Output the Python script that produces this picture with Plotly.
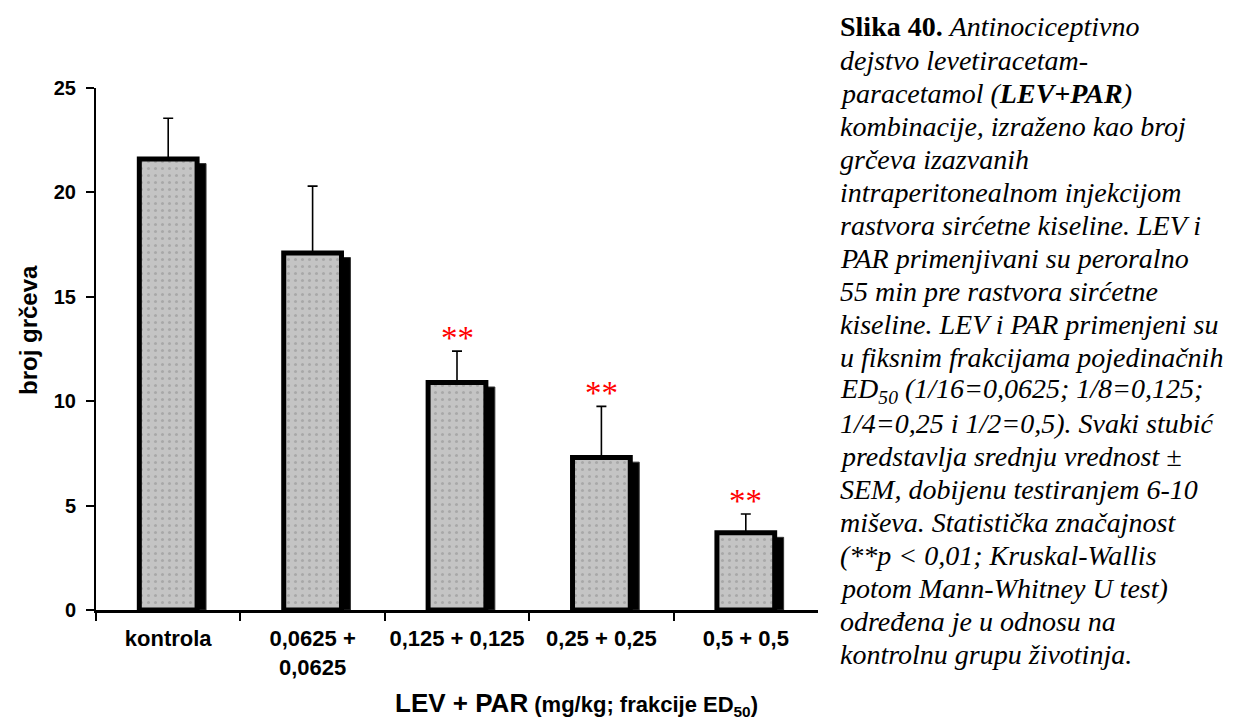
import plotly.graph_objects as go

# ---- data ----
categories = ["kontrola", "0,0625 +<br>0,0625", "0,125 + 0,125", "0,25 + 0,25", "0,5 + 0,5"]
means = [21.6, 17.1, 10.9, 7.3, 3.7]
sem = [1.95, 3.2, 1.5, 2.45, 0.9]
significant = [False, False, True, True, True]
y_ticks = [0, 5, 10, 15, 20, 25]

caption_lines = [
    "<b>Slika 40.</b> <i>Antinociceptivno</i>",
    "<i>dejstvo levetiracetam-</i>",
    "<i>paracetamol (<b>LEV+PAR</b>)</i>",
    "<i>kombinacije, izraženo kao broj</i>",
    "<i>grčeva izazvanih</i>",
    "<i>intraperitonealnom injekcijom</i>",
    "<i>rastvora sirćetne kiseline. LEV i</i>",
    "<i>PAR primenjivani su peroralno</i>",
    "<i>55 min pre rastvora sirćetne</i>",
    "<i>kiseline. LEV i PAR primenjeni su</i>",
    "<i>u fiksnim frakcijama pojedinačnih</i>",
    "<i>ED<sub>50</sub> (1/16=0,0625; 1/8=0,125;</i>",
    "<i>1/4=0,25 i 1/2=0,5). Svaki stubić</i>",
    "<i>predstavlja srednju vrednost ±</i>",
    "<i>SEM, dobijenu testiranjem 6-10</i>",
    "<i>miševa. Statistička značajnost</i>",
    "<i>(**p < 0,01; Kruskal-Wallis</i>",
    "<i>potom Mann-Whitney U test)</i>",
    "<i>određena je u odnosu na</i>",
    "<i>kontrolnu grupu životinja.</i>",
]

# ---- layout constants (page body has an 8px margin) ----
OFF = 8
W, H = 1234 - OFF, 722 - OFF
PX_L, PX_R, PX_T, PX_B = 96, 818, 88, 610   # plot area in page pixels
L, T = PX_L - OFF, PX_T - OFF
R = W - (PX_R - OFF)
B = H - (PX_B - OFF)
plot_w = PX_R - PX_L
plot_h = PX_B - PX_T


def px(xp):
    return (xp - PX_L) / plot_w


def py(yp):
    return (PX_B - yp) / plot_h


idx = list(range(len(categories)))
bar_w = 0.40
shadow_dx = 0.062
shadow_dy = 0.22

SANS = "Liberation Sans, Arial, sans-serif"
SERIF = "Times New Roman, Liberation Serif, serif"

fig = go.Figure()

# shadow bars (main x axis, drawn behind)
fig.add_trace(go.Bar(
    x=[i + shadow_dx for i in idx],
    y=[m - shadow_dy for m in means],
    width=bar_w,
    marker=dict(color="black", line=dict(color="#333333", width=1)),
    xaxis="x", yaxis="y",
    hoverinfo="skip", showlegend=False,
))

# main bars with error bars (overlaying axis)
fig.add_trace(go.Bar(
    x=idx,
    y=means,
    width=bar_w,
    marker=dict(
        color="#c0c0c0",
        line=dict(color="black", width=5),
        pattern=dict(shape=".", fgcolor="#8c8c8c", bgcolor="#c4c4c4", size=7, solidity=0.15),
    ),
    error_y=dict(type="data", array=sem, arrayminus=[0] * len(sem), symmetric=False,
                 color="black", thickness=1.6, width=5),
    xaxis="x2", yaxis="y",
    showlegend=False,
))

annotations = []
for i, (m, s, sig) in enumerate(zip(means, sem, significant)):
    if sig:
        annotations.append(dict(
            x=i, y=m + s, xref="x2", yref="y", text="**", showarrow=False,
            font=dict(family=SERIF, size=33, color="red"),
            xanchor="center", yanchor="bottom", yshift=-7,
        ))

# y axis title
annotations.append(dict(
    x=px(28), y=py(330), xref="paper", yref="paper",
    text="<b>broj grčeva</b>", textangle=-90, showarrow=False,
    xanchor="center", yanchor="middle",
    font=dict(family=SANS, size=24, color="black"),
))
# x axis title
annotations.append(dict(
    x=px(393), y=py(704), xref="paper", yref="paper",
    text="<b>LEV + PAR</b><b><span style='font-size:22px'> (mg/kg; frakcije ED<sub>50</sub>)</span></b>",
    showarrow=False, xanchor="left", yanchor="middle",
    font=dict(family=SANS, size=26, color="black"),
))

# caption
for k, line in enumerate(caption_lines):
    yy = 27 + k * 33.05
    annotations.append(dict(
        x=px(838), y=py(yy), xref="paper", yref="paper",
        text=line, showarrow=False, xanchor="left", yanchor="middle", align="left",
        font=dict(family=SERIF, size=28, color="black"),
    ))

fig.update_layout(
    width=W, height=H,
    margin=dict(l=L, r=R, t=T, b=B),
    paper_bgcolor="white", plot_bgcolor="white",
    barmode="overlay",
    xaxis=dict(
        range=[-0.5, 4.5], tickvals=[-0.5, 0.5, 1.5, 2.5, 3.5],
        showticklabels=False, ticks="outside", ticklen=8, tickwidth=2, tickcolor="black",
        showline=True, linecolor="black", linewidth=2.5, showgrid=False, zeroline=False,
    ),
    xaxis2=dict(
        range=[-0.5, 4.5], overlaying="x", anchor="y", side="bottom",
        tickvals=idx, ticktext=["<b>%s</b>" % c for c in categories], ticks="",
        tickfont=dict(family=SANS, size=22, color="black"),
        showline=False, showgrid=False, zeroline=False, ticklabelstandoff=13,
    ),
    yaxis=dict(
        range=[0, 25], tickvals=y_ticks, ticktext=["<b>%d</b>" % v for v in y_ticks],
        ticks="outside", ticklen=8, tickwidth=2, tickcolor="black",
        tickfont=dict(family=SANS, size=20, color="black"),
        showline=True, linecolor="black", linewidth=2, showgrid=False, zeroline=False,
        ticklabelstandoff=6,
    ),
    annotations=annotations,
)

fig.write_html("out.html")
